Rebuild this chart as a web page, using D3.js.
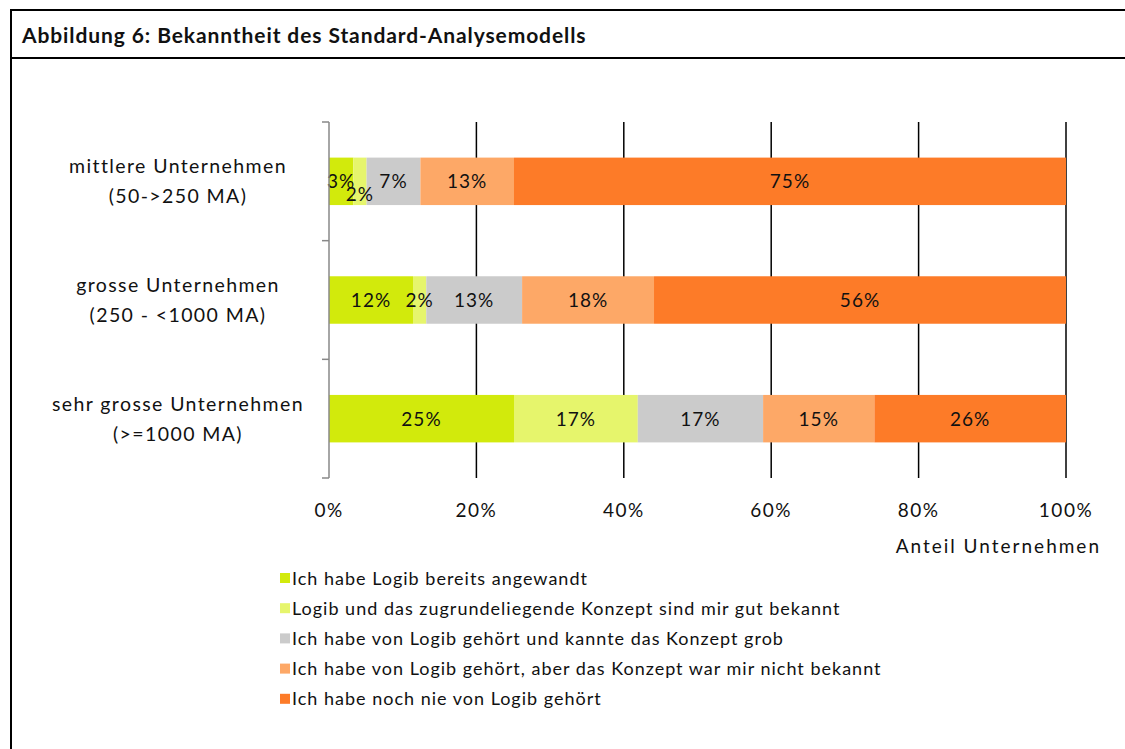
<!DOCTYPE html>
<html lang="de">
<head>
<meta charset="UTF-8">
<title>Abbildung 6</title>
<script src="https://d3js.org/d3.v7.min.js"></script>
<style>
  body { margin: 0; background: #fff; }
  text { font-family: Lato, "Open Sans", sans-serif; fill: #111; }
</style>
</head>
<body>
<div id="chart"></div>
<script>
// categories (top to bottom)
const categories = [
  ["mittlere Unternehmen", "(50->250 MA)"],
  ["grosse Unternehmen", "(250 - <1000 MA)"],
  ["sehr grosse Unternehmen", "(>=1000 MA)"]
];
const seriesNames = [
  "Ich habe Logib bereits angewandt",
  "Logib und das zugrundeliegende Konzept sind mir gut bekannt",
  "Ich habe von Logib gehört und kannte das Konzept grob",
  "Ich habe von Logib gehört, aber das Konzept war mir nicht bekannt",
  "Ich habe noch nie von Logib gehört"
];
// values per series, one per category (percent)
const angewandt   = [3.3, 11.4, 25.1];
const gutBekannt  = [1.8, 1.8, 16.8];
const grob        = [7.3, 13.0, 17.0];
const nichtBek    = [12.7, 17.9, 15.1];
const nie         = [74.9, 55.9, 26.0];
const series = [angewandt, gutBekannt, grob, nichtBek, nie];
const labels = [
  ["3%", "12%", "25%"],
  ["2%", "2%", "17%"],
  ["7%", "13%", "17%"],
  ["13%", "18%", "15%"],
  ["75%", "56%", "26%"]
];
const colors = ["#d2ea0c", "#e6f56c", "#cbcbcb", "#fda867", "#fd7b28"];
const xTicks = [0, 20, 40, 60, 80, 100];

const W = 1125, H = 749;
const svg = d3.select("#chart").append("svg")
  .attr("width", W).attr("height", H);

// frame
svg.append("line").attr("x1", 10).attr("x2", W).attr("y1", 10).attr("y2", 10)
  .attr("stroke", "#000").attr("stroke-width", 2);
svg.append("line").attr("x1", 10).attr("x2", W).attr("y1", 58).attr("y2", 58)
  .attr("stroke", "#000").attr("stroke-width", 2);
svg.append("line").attr("x1", 11).attr("x2", 11).attr("y1", 9).attr("y2", H)
  .attr("stroke", "#000").attr("stroke-width", 2);

svg.append("text").attr("x", 22).attr("y", 43)
  .attr("font-size", 21).attr("font-weight", "bold")
  .attr("letter-spacing", 0.9)
  .text("Abbildung 6: Bekanntheit des Standard-Analysemodells");

const x = d3.scaleLinear().domain([0, 100]).range([329, 1066]);
const y = d3.scaleBand().domain(d3.range(categories.length))
  .range([122, 478]).paddingInner(0.6).paddingOuter(0.3);

// gridlines
svg.append("g").selectAll("line").data(xTicks.slice(1)).join("line")
  .attr("x1", d => x(d)).attr("x2", d => x(d))
  .attr("y1", 122).attr("y2", 478)
  .attr("stroke", "#000").attr("stroke-width", 1.5);

// stacked bars
const stackData = categories.map((c, i) => {
  let acc = 0;
  return series.map((s, k) => {
    const seg = { k, i, x0: acc, x1: acc + s[i], label: labels[k][i] };
    acc += s[i];
    return seg;
  });
}).flat();

svg.append("g").selectAll("rect").data(stackData).join("rect")
  .attr("x", d => x(d.x0))
  .attr("width", d => x(d.x1) - x(d.x0))
  .attr("y", d => y(d.i))
  .attr("height", y.bandwidth())
  .attr("fill", d => colors[d.k]);

svg.append("g").selectAll("text").data(stackData).join("text")
  .attr("x", d => (x(d.x0) + x(d.x1)) / 2)
  .attr("y", d => y(d.i) + y.bandwidth() / 2 + 7 + (d.i === 0 && d.k === 1 ? 13 : 0))
  .attr("text-anchor", "middle")
  .attr("font-size", 19).attr("letter-spacing", 1)
  .text(d => d.label);

// y axis (grey) with outer ticks between categories
const yAxisG = svg.append("g");
yAxisG.append("line").attr("x1", 329).attr("x2", 329).attr("y1", 122).attr("y2", 478)
  .attr("stroke", "#888").attr("stroke-width", 1.5);
const bandStep = (478 - 122) / categories.length;
yAxisG.selectAll("line.tick").data(d3.range(categories.length + 1)).join("line")
  .attr("class", "tick")
  .attr("x1", 322).attr("x2", 329)
  .attr("y1", d => 122 + d * bandStep).attr("y2", d => 122 + d * bandStep)
  .attr("stroke", "#888").attr("stroke-width", 1.5);

// category labels
const catG = svg.append("g").selectAll("text").data(categories).join("text")
  .attr("text-anchor", "middle")
  .attr("font-size", 19.5).attr("letter-spacing", 1.4);
catG.append("tspan").attr("x", 178)
  .attr("y", (d, i) => y(i) + y.bandwidth() / 2 - 8)
  .text(d => d[0]);
catG.append("tspan").attr("x", 178)
  .attr("y", (d, i) => y(i) + y.bandwidth() / 2 + 22)
  .text(d => d[1]);

// x tick labels
svg.append("g").selectAll("text").data(xTicks).join("text")
  .attr("x", d => x(d)).attr("y", 517)
  .attr("text-anchor", "middle").attr("font-size", 19).attr("letter-spacing", 1.5)
  .text(d => d + "%");

svg.append("text").attr("x", 1101).attr("y", 553)
  .attr("text-anchor", "end").attr("font-size", 19).attr("letter-spacing", 2)
  .text("Anteil Unternehmen");

// legend
const lg = svg.append("g").selectAll("g").data(seriesNames).join("g")
  .attr("transform", (d, i) => `translate(280, ${578 + i * 30.2})`);
lg.append("rect").attr("x", 0).attr("y", -5).attr("width", 10).attr("height", 10)
  .attr("fill", (d, i) => colors[i]);
lg.append("text").attr("x", 12).attr("y", 6.5).attr("font-size", 18)
  .attr("letter-spacing", 1)
  .text(d => d);
</script>
</body>
</html>
